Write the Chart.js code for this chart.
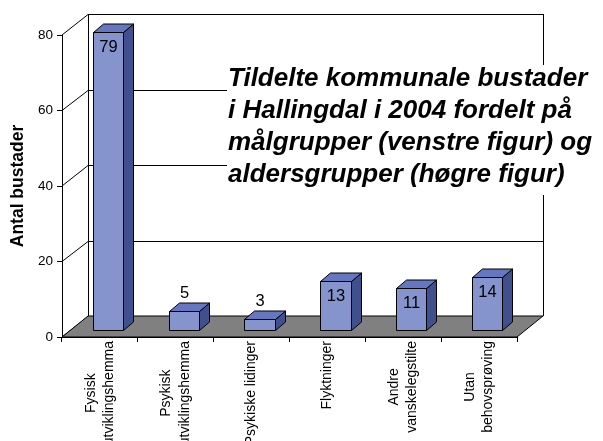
<!DOCTYPE html>
<html><head><meta charset="utf-8">
<script src="https://cdn.jsdelivr.net/npm/chart.js@4/dist/chart.umd.min.js"></script>
<style>html,body{margin:0;padding:0;background:#fff}#wrap{width:603px;height:441px;position:relative}</style>
</head><body><div id="wrap"><canvas id="c" width="603" height="441"></canvas></div>
<script>
const categories = [["Fysisk","utviklingshemma"],["Psykisk","utviklingshemma"],["Psykiske lidinger"],["Flyktninger"],["Andre","vanskelegstilte"],["Utan","behovsprøving"]];
const values = [79, 5, 3, 13, 11, 14];
const yTicks = [0, 20, 40, 60, 80];
const titleLines = ["Tildelte kommunale bustader","i Hallingdal i 2004 fordelt på","målgrupper (venstre figur) og","aldersgrupper (høgre figur)"];
const yAxisTitle = "Antal bustader";

const FONT = '"Liberation Sans", Arial, Helvetica, sans-serif';
const WALL = {dx: 26, dy: -21};
const BAR_OFF = {dx: 8, dy: -7};
const BAR_DEPTH = {dx: 10, dy: -8.5};
const COL = {front: '#8594CC', top: '#6577C0', side: '#40508E', floor: '#808080'};

function poly(ctx, pts, fill) {
  ctx.beginPath();
  ctx.moveTo(pts[0][0], pts[0][1]);
  for (let i = 1; i < pts.length; i++) ctx.lineTo(pts[i][0], pts[i][1]);
  ctx.closePath();
  if (fill) { ctx.fillStyle = fill; ctx.fill(); }
  ctx.stroke();
}

const threeD = {
  id: 'threeD',
  beforeDraw(chart) {
    const {ctx, chartArea: a, scales: {x, y}} = chart;
    const L = a.left, R = a.right;
    const B = y.getPixelForValue(yTicks[0]);
    const T = y.getPixelForValue(yTicks[yTicks.length - 1]);
    ctx.save();
    ctx.strokeStyle = '#000'; ctx.lineWidth = 1;
    ctx.beginPath();
    yTicks.forEach(v => {
      const fy = y.getPixelForValue(v);
      const by = Math.round(fy + WALL.dy) + 0.5;
      ctx.moveTo(L, fy); ctx.lineTo(L + WALL.dx, by);
      ctx.moveTo(L + WALL.dx, by); ctx.lineTo(R + WALL.dx, by);
    });
    const bxL = Math.round(L + WALL.dx) + 0.5, bxR = Math.round(R + WALL.dx) + 0.5;
    ctx.moveTo(bxL, T + WALL.dy); ctx.lineTo(bxL, B + WALL.dy);
    ctx.moveTo(bxR, T + WALL.dy); ctx.lineTo(bxR, B + WALL.dy);
    ctx.stroke();
    poly(ctx, [[L, B], [R, B], [R + WALL.dx, B + WALL.dy], [L + WALL.dx, B + WALL.dy]], COL.floor);
    ctx.restore();
  },
  afterDatasetsDraw(chart) {
    const {ctx, scales: {y}} = chart;
    const meta = chart.getDatasetMeta(0);
    ctx.save();
    ctx.strokeStyle = '#000'; ctx.lineWidth = 1; ctx.lineJoin = 'miter';
    meta.data.forEach((el, i) => {
      const p = el.getProps(['x', 'y', 'base', 'width'], true);
      const x0 = Math.round(p.x - p.width / 2 + BAR_OFF.dx) + 0.5;
      const x1 = Math.round(p.x + p.width / 2 + BAR_OFF.dx) + 0.5;
      const y0 = Math.round(p.y + BAR_OFF.dy) + 0.5;
      const y1 = Math.round(p.base + BAR_OFF.dy) + 0.5;
      const dx = BAR_DEPTH.dx, dy = BAR_DEPTH.dy;
      poly(ctx, [[x1, y0], [x1 + dx, y0 + dy], [x1 + dx, y1 + dy], [x1, y1]], COL.side);
      poly(ctx, [[x0, y0], [x0 + dx, y0 + dy], [x1 + dx, y0 + dy], [x1, y0]], COL.top);
      poly(ctx, [[x0, y0], [x1, y0], [x1, y1], [x0, y1]], COL.front);
      // value label
      ctx.fillStyle = '#000';
      ctx.font = '16.5px ' + FONT;
      ctx.textAlign = 'center'; ctx.textBaseline = 'middle';
      const h = y1 - y0;
      const ly = h > 35 ? y0 + 15 : y0 - 18;
      ctx.fillText(String(values[i]), (x0 + x1) / 2, ly);
    });
    ctx.restore();
  },
  afterDraw(chart) {
    const {ctx, chartArea: a, scales: {x}} = chart;
    ctx.save();
    // category labels, rotated, lines centred on each other
    ctx.fillStyle = '#000';
    ctx.font = '14px ' + FONT;
    ctx.textAlign = 'center'; ctx.textBaseline = 'middle';
    categories.forEach((lines, i) => {
      const cx = x.getPixelForValue(i);
      const maxW = Math.max(...lines.map(s => ctx.measureText(s).width));
      const topY = a.bottom + 4;
      ctx.save();
      ctx.translate(cx, topY + maxW / 2);
      ctx.rotate(-Math.PI / 2);
      const lh = 18.5, n = lines.length;
      lines.forEach((s, j) => ctx.fillText(s, 0, (j - (n - 1) / 2) * lh));
      ctx.restore();
    });
    // title box
    ctx.fillStyle = '#fff';
    ctx.fillRect(227, 65, 376, 130);
    ctx.fillStyle = '#000';
    ctx.font = 'italic bold 26px ' + FONT;
    ctx.textAlign = 'left'; ctx.textBaseline = 'alphabetic';
    titleLines.forEach((s, j) => ctx.fillText(s, 228, 86 + j * 32));
    ctx.restore();
  }
};

new Chart(document.getElementById('c'), {
  type: 'bar',
  data: {
    labels: categories,
    datasets: [{
      data: values,
      backgroundColor: 'rgba(0,0,0,0)',
      borderWidth: 0,
      barPercentage: 0.4,
      categoryPercentage: 1
    }]
  },
  options: {
    responsive: false,
    devicePixelRatio: 1,
    animation: false,
    events: [],
    layout: {padding: {top: 35, right: 86, left: 0, bottom: 0}},
    plugins: {legend: {display: false}, tooltip: {enabled: false}, title: {display: false}},
    scales: {
      x: {
        type: 'category',
        offset: true,
        grid: {offset: true, drawOnChartArea: false, drawTicks: true, tickLength: 5, color: '#000', lineWidth: 1},
        border: {display: true, color: '#000', width: 1},
        ticks: {display: false},
        afterFit(scale) { scale.height = 104; }
      },
      y: {
        min: yTicks[0], max: yTicks[yTicks.length - 1],
        afterBuildTicks(scale) { scale.ticks = yTicks.map(v => ({value: v})); },
        grid: {drawOnChartArea: false, drawTicks: true, tickLength: 5, color: '#000', lineWidth: 1},
        border: {display: true, color: '#000', width: 1},
        ticks: {color: '#000', font: {family: FONT, size: 13.5}, padding: 4},
        title: {display: true, text: yAxisTitle, color: '#000', font: {family: FONT, size: 17.5, weight: 'bold'}, padding: {top: 8, bottom: 0}},
        afterFit(scale) { scale.width = 62; }
      }
    }
  },
  plugins: [threeD]
});
</script>
</body></html>
